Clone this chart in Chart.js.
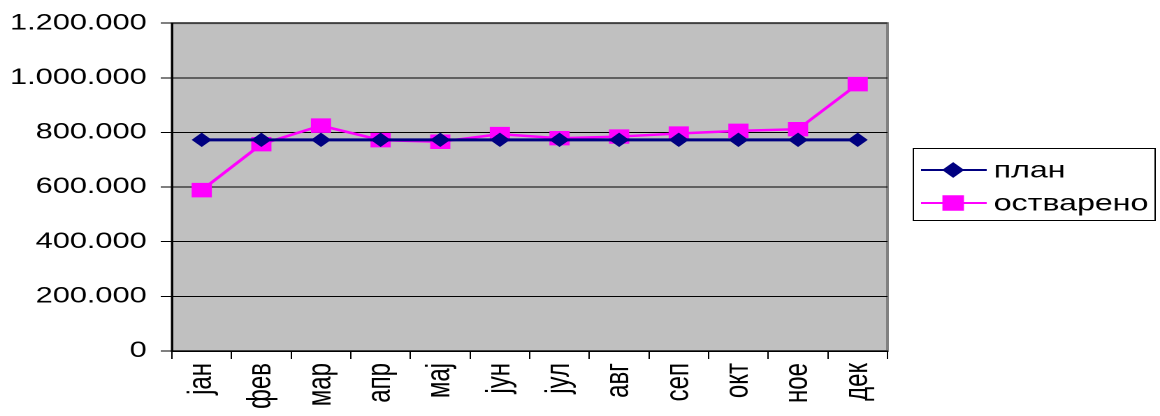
<!DOCTYPE html>
<html>
<head>
<meta charset="utf-8">
<script src="https://cdn.jsdelivr.net/npm/chart.js@4"></script>
<style>
  html, body { margin: 0; padding: 0; background: #fff; overflow: hidden; }
  /* the source picture is stretched sideways, so draw narrow and stretch */
  #wrap { width: 830px; height: 416px; transform: scaleX(1.3976); transform-origin: 0 0; }
</style>
</head>
<body>
<div id="wrap"><canvas id="chart" width="830" height="416"></canvas></div>
<script>
'use strict';

const MONTHS   = ['јан', 'фев', 'мар', 'апр', 'мај', 'јун', 'јул', 'авг', 'сеп', 'окт', 'ное', 'дек'];
const PLAN     = [773000, 773000, 773000, 773000, 773000, 773000, 773000, 773000, 773000, 773000, 773000, 773000];
const ACTUAL   = [589000, 757000, 825000, 772000, 766000, 794000, 779000, 785000, 796000, 806000, 812000, 977000];
const Y_TICKS  = [0, 200000, 400000, 600000, 800000, 1000000, 1200000];

const NAVY    = '#000080';
const MAGENTA = '#ff00ff';
const FONT    = "'Liberation Sans', Arial, sans-serif";

const fmt = v => String(v).replace(/\B(?=(\d{3})+(?!\d))/g, '.');

// gray plot area with a thin border
const plotBg = {
  id: 'plotBg',
  beforeDraw(chart) {
    const { ctx, chartArea: a } = chart;
    ctx.save();
    ctx.fillStyle = '#c0c0c0';
    ctx.fillRect(a.left, a.top, a.right - a.left, a.bottom - a.top);
    ctx.strokeStyle = '#808080';
    ctx.lineWidth = 2;
    ctx.strokeRect(a.left, a.top, a.right - a.left, a.bottom - a.top);
    ctx.restore();
  },
};

// Excel style legend: line + marker + label in a box on the right
const boxLegend = {
  id: 'boxLegend',
  afterDraw(chart) {
    const { ctx } = chart;
    const x0 = 653.5, y0 = 148.5, w = 173, h = 72;
    ctx.save();
    ctx.strokeStyle = '#000';
    ctx.lineWidth = 1;
    ctx.strokeRect(x0, y0, w, h);
    chart.data.datasets.forEach((ds, i) => {
      const y = 170 + i * 33;
      ctx.strokeStyle = ds.borderColor;
      ctx.fillStyle = ds.backgroundColor;
      ctx.lineWidth = 2;
      ctx.beginPath();
      ctx.moveTo(659, y);
      ctx.lineTo(706, y);
      ctx.stroke();
      Chart.helpers.drawPoint(ctx, {
        pointStyle: ds.pointStyle, radius: ds.pointRadius, borderWidth: 1, rotation: 0,
      }, 682, y);
      ctx.fillStyle = '#000';
      ctx.font = '23px ' + FONT;
      ctx.textBaseline = 'middle';
      ctx.fillText(ds.label, 711, y + 1);
    });
    ctx.restore();
  },
};

new Chart(document.getElementById('chart'), {
  type: 'line',
  data: {
    labels: MONTHS,
    datasets: [
      {
        label: 'план',
        data: PLAN,
        borderColor: NAVY,
        backgroundColor: NAVY,
        borderWidth: 3,
        pointStyle: 'rectRot',
        pointRadius: 6.5,
        pointBorderWidth: 1,
        tension: 0,
      },
      {
        label: 'остварено',
        data: ACTUAL,
        borderColor: MAGENTA,
        backgroundColor: MAGENTA,
        borderWidth: 2.5,
        pointStyle: 'rect',
        pointRadius: 9.5,
        pointBorderWidth: 1,
        tension: 0,
      },
    ],
  },
  options: {
    responsive: false,
    animation: false,
    devicePixelRatio: 2,
    layout: { padding: { top: 21, right: 195, left: 0, bottom: 0 } },
    plugins: { legend: { display: false }, tooltip: { enabled: false } },
    scales: {
      x: {
        offset: true,
        grid: { offset: true, drawOnChartArea: false, color: '#000', tickLength: 8 },
        border: { color: '#000', width: 1.5 },
        ticks: {
          color: '#000', font: { family: FONT, size: 24 },
          minRotation: 90, maxRotation: 90, padding: 4, autoSkip: false,
        },
        afterFit: s => { s.height = 65; },
      },
      y: {
        min: 0,
        max: 1200000,
        afterBuildTicks: s => { s.ticks = Y_TICKS.map(v => ({ value: v })); },
        grid: { color: '#000', lineWidth: 1, tickLength: 8 },
        border: { color: '#000', width: 1.5 },
        ticks: {
          color: '#000', font: { family: FONT, size: 22 }, padding: 10,
          callback: v => fmt(v),
        },
        afterFit: s => { s.width = 123; },
      },
    },
  },
  plugins: [plotBg, boxLegend],
});
</script>
</body>
</html>
